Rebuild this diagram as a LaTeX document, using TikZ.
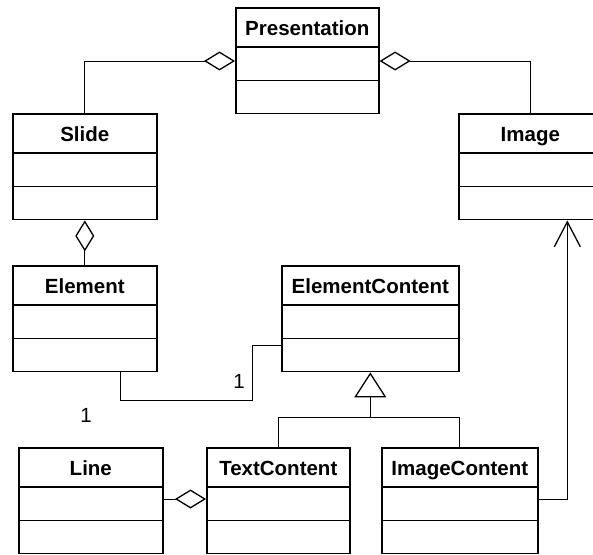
\documentclass[tikz,border=0pt]{standalone}
\usepackage{fontspec}
\setmainfont{Liberation Sans}
\usetikzlibrary{shapes.multipart,arrows.meta}
\tikzset{
  cls/.style={rectangle split, rectangle split parts=3, draw, line width=1.6pt,
    anchor=north west, inner xsep=0pt, inner ysep=0pt, align=center,
    font=\bfseries\fontsize{20.5}{24}\selectfont},
  agg/.style={{Diamond[open,length=31pt,width=19pt,line width=1.3pt]}-},
  gen/.style={-{Triangle[open,length=25pt,width=32pt,line width=1.3pt]}},
  nav/.style={-{Straight Barb[length=25pt,width=26pt,line width=1.3pt]}},
  mult/.style={font=\fontsize{20.5}{24}\selectfont, inner sep=0pt},
}
\newcommand{\umlparts}[1]{\rule[-11pt]{0pt}{37.5pt}#1\nodepart{two}\rule{0pt}{32pt}\nodepart{three}\rule{0pt}{31.5pt}}
\begin{document}
\begin{tikzpicture}[x=1pt, y=-1pt, line width=1pt]
  \useasboundingbox (0,0) rectangle (593,554);
  \node[cls, text width=143pt] (pres) at (235,7) {\umlparts{Presentation}};
  \node[cls, text width=144pt] (slide) at (12,113) {\umlparts{Slide}};
  \node[cls, text width=143pt] (image) at (458,113) {\umlparts{Image}};
  \node[cls, text width=144pt] (elem) at (12,265) {\umlparts{Element}};
  \node[cls, text width=177pt] (elemc) at (281,265) {\umlparts{ElementContent}};
  \node[cls, text width=144pt] (line) at (18,447) {\umlparts{Line}};
  \node[cls, text width=143pt] (textc) at (206,447) {\umlparts{TextContent}};
  \node[cls, text width=156pt] (imgc) at (381,447) {\umlparts{ImageContent}};
  % aggregations
  \draw[agg] ([yshift=-54pt]pres.north west) -| (slide.north);
  \draw[agg] ([yshift=-54pt]pres.north east) -| (image.north);
  \draw[agg] (slide.south) -- (elem.north);
  \draw[agg] ([yshift=-52pt]textc.north west) -- ([yshift=-52pt]line.north east);
  % association
  \draw ([xshift=36pt]elem.south) -- ++(0,28) -| ([xshift=-29pt,yshift=-80pt]elemc.north west) -- ([yshift=-80pt]elemc.north west);
  \node[mult] (one1) at (239,381) {1};
  \node[mult] (one2) at (86,415) {1};
  % inheritance
  \draw[gen] ([yshift=-45pt]elemc.south) coordinate (fork) -- (elemc.south);
  \draw (fork) -| (textc.north);
  \draw (fork) -| (imgc.north);
  \draw[nav] ([yshift=-52pt]imgc.north east) -| ([xshift=37pt]image.south);
\end{tikzpicture}
\end{document}
